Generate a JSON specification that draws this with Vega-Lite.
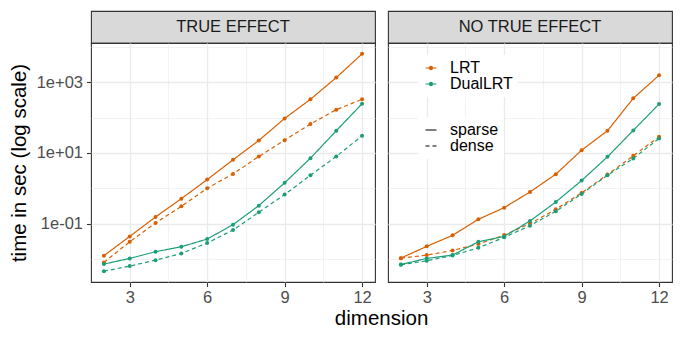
{
  "$schema": "https://vega.github.io/schema/vega-lite/v6.json",
  "padding": {"left": 8, "top": 10, "right": 8, "bottom": 8},
  "config": {"font": "Liberation Sans", "view": {"stroke": null}},
  "data": {"values": [
    {"effect":"TRUE EFFECT","method":"LRT","type":"sparse","dim":2,"time":0.0124},
    {"effect":"TRUE EFFECT","method":"LRT","type":"sparse","dim":3,"time":0.0437},
    {"effect":"TRUE EFFECT","method":"LRT","type":"sparse","dim":4,"time":0.155},
    {"effect":"TRUE EFFECT","method":"LRT","type":"sparse","dim":5,"time":0.51},
    {"effect":"TRUE EFFECT","method":"LRT","type":"sparse","dim":6,"time":1.77},
    {"effect":"TRUE EFFECT","method":"LRT","type":"sparse","dim":7,"time":6.4},
    {"effect":"TRUE EFFECT","method":"LRT","type":"sparse","dim":8,"time":22.6},
    {"effect":"TRUE EFFECT","method":"LRT","type":"sparse","dim":9,"time":95},
    {"effect":"TRUE EFFECT","method":"LRT","type":"sparse","dim":10,"time":330},
    {"effect":"TRUE EFFECT","method":"LRT","type":"sparse","dim":11,"time":1356},
    {"effect":"TRUE EFFECT","method":"LRT","type":"sparse","dim":12,"time":6370},
    {"effect":"TRUE EFFECT","method":"LRT","type":"dense","dim":2,"time":0.008},
    {"effect":"TRUE EFFECT","method":"LRT","type":"dense","dim":3,"time":0.0308},
    {"effect":"TRUE EFFECT","method":"LRT","type":"dense","dim":4,"time":0.1045},
    {"effect":"TRUE EFFECT","method":"LRT","type":"dense","dim":5,"time":0.31},
    {"effect":"TRUE EFFECT","method":"LRT","type":"dense","dim":6,"time":1.0},
    {"effect":"TRUE EFFECT","method":"LRT","type":"dense","dim":7,"time":2.56},
    {"effect":"TRUE EFFECT","method":"LRT","type":"dense","dim":8,"time":7.96},
    {"effect":"TRUE EFFECT","method":"LRT","type":"dense","dim":9,"time":23.1},
    {"effect":"TRUE EFFECT","method":"LRT","type":"dense","dim":10,"time":65.8},
    {"effect":"TRUE EFFECT","method":"LRT","type":"dense","dim":11,"time":168},
    {"effect":"TRUE EFFECT","method":"LRT","type":"dense","dim":12,"time":330},
    {"effect":"TRUE EFFECT","method":"DualLRT","type":"sparse","dim":2,"time":0.00718},
    {"effect":"TRUE EFFECT","method":"DualLRT","type":"sparse","dim":3,"time":0.0104},
    {"effect":"TRUE EFFECT","method":"DualLRT","type":"sparse","dim":4,"time":0.0161},
    {"effect":"TRUE EFFECT","method":"DualLRT","type":"sparse","dim":5,"time":0.0223},
    {"effect":"TRUE EFFECT","method":"DualLRT","type":"sparse","dim":6,"time":0.0367},
    {"effect":"TRUE EFFECT","method":"DualLRT","type":"sparse","dim":7,"time":0.0937},
    {"effect":"TRUE EFFECT","method":"DualLRT","type":"sparse","dim":8,"time":0.324},
    {"effect":"TRUE EFFECT","method":"DualLRT","type":"sparse","dim":9,"time":1.43},
    {"effect":"TRUE EFFECT","method":"DualLRT","type":"sparse","dim":10,"time":7.13},
    {"effect":"TRUE EFFECT","method":"DualLRT","type":"sparse","dim":11,"time":42.5},
    {"effect":"TRUE EFFECT","method":"DualLRT","type":"sparse","dim":12,"time":248},
    {"effect":"TRUE EFFECT","method":"DualLRT","type":"dense","dim":2,"time":0.00454},
    {"effect":"TRUE EFFECT","method":"DualLRT","type":"dense","dim":3,"time":0.0063},
    {"effect":"TRUE EFFECT","method":"DualLRT","type":"dense","dim":4,"time":0.0093},
    {"effect":"TRUE EFFECT","method":"DualLRT","type":"dense","dim":5,"time":0.0144},
    {"effect":"TRUE EFFECT","method":"DualLRT","type":"dense","dim":6,"time":0.0283},
    {"effect":"TRUE EFFECT","method":"DualLRT","type":"dense","dim":7,"time":0.066},
    {"effect":"TRUE EFFECT","method":"DualLRT","type":"dense","dim":8,"time":0.21},
    {"effect":"TRUE EFFECT","method":"DualLRT","type":"dense","dim":9,"time":0.665},
    {"effect":"TRUE EFFECT","method":"DualLRT","type":"dense","dim":10,"time":2.35},
    {"effect":"TRUE EFFECT","method":"DualLRT","type":"dense","dim":11,"time":7.96},
    {"effect":"TRUE EFFECT","method":"DualLRT","type":"dense","dim":12,"time":30.7},
    {"effect":"NO TRUE EFFECT","method":"LRT","type":"sparse","dim":2,"time":0.0106},
    {"effect":"NO TRUE EFFECT","method":"LRT","type":"sparse","dim":3,"time":0.0228},
    {"effect":"NO TRUE EFFECT","method":"LRT","type":"sparse","dim":4,"time":0.0467},
    {"effect":"NO TRUE EFFECT","method":"LRT","type":"sparse","dim":5,"time":0.133},
    {"effect":"NO TRUE EFFECT","method":"LRT","type":"sparse","dim":6,"time":0.284},
    {"effect":"NO TRUE EFFECT","method":"LRT","type":"sparse","dim":7,"time":0.79},
    {"effect":"NO TRUE EFFECT","method":"LRT","type":"sparse","dim":8,"time":2.51},
    {"effect":"NO TRUE EFFECT","method":"LRT","type":"sparse","dim":9,"time":12.0},
    {"effect":"NO TRUE EFFECT","method":"LRT","type":"sparse","dim":10,"time":42.5},
    {"effect":"NO TRUE EFFECT","method":"LRT","type":"sparse","dim":11,"time":352},
    {"effect":"NO TRUE EFFECT","method":"LRT","type":"sparse","dim":12,"time":1580},
    {"effect":"NO TRUE EFFECT","method":"LRT","type":"dense","dim":2,"time":0.0106},
    {"effect":"NO TRUE EFFECT","method":"LRT","type":"dense","dim":3,"time":0.0129},
    {"effect":"NO TRUE EFFECT","method":"LRT","type":"dense","dim":4,"time":0.0175},
    {"effect":"NO TRUE EFFECT","method":"LRT","type":"dense","dim":5,"time":0.0265},
    {"effect":"NO TRUE EFFECT","method":"LRT","type":"dense","dim":6,"time":0.0476},
    {"effect":"NO TRUE EFFECT","method":"LRT","type":"dense","dim":7,"time":0.1},
    {"effect":"NO TRUE EFFECT","method":"LRT","type":"dense","dim":8,"time":0.255},
    {"effect":"NO TRUE EFFECT","method":"LRT","type":"dense","dim":9,"time":0.741},
    {"effect":"NO TRUE EFFECT","method":"LRT","type":"dense","dim":10,"time":2.45},
    {"effect":"NO TRUE EFFECT","method":"LRT","type":"dense","dim":11,"time":8.3},
    {"effect":"NO TRUE EFFECT","method":"LRT","type":"dense","dim":12,"time":28.8},
    {"effect":"NO TRUE EFFECT","method":"DualLRT","type":"sparse","dim":2,"time":0.007},
    {"effect":"NO TRUE EFFECT","method":"DualLRT","type":"sparse","dim":3,"time":0.0104},
    {"effect":"NO TRUE EFFECT","method":"DualLRT","type":"sparse","dim":4,"time":0.0129},
    {"effect":"NO TRUE EFFECT","method":"DualLRT","type":"sparse","dim":5,"time":0.0308},
    {"effect":"NO TRUE EFFECT","method":"DualLRT","type":"sparse","dim":6,"time":0.0437},
    {"effect":"NO TRUE EFFECT","method":"DualLRT","type":"sparse","dim":7,"time":0.119},
    {"effect":"NO TRUE EFFECT","method":"DualLRT","type":"sparse","dim":8,"time":0.412},
    {"effect":"NO TRUE EFFECT","method":"DualLRT","type":"sparse","dim":9,"time":1.66},
    {"effect":"NO TRUE EFFECT","method":"DualLRT","type":"sparse","dim":10,"time":7.78},
    {"effect":"NO TRUE EFFECT","method":"DualLRT","type":"sparse","dim":11,"time":43.5},
    {"effect":"NO TRUE EFFECT","method":"DualLRT","type":"sparse","dim":12,"time":243},
    {"effect":"NO TRUE EFFECT","method":"DualLRT","type":"dense","dim":2,"time":0.0069},
    {"effect":"NO TRUE EFFECT","method":"DualLRT","type":"dense","dim":3,"time":0.0089},
    {"effect":"NO TRUE EFFECT","method":"DualLRT","type":"dense","dim":4,"time":0.0126},
    {"effect":"NO TRUE EFFECT","method":"DualLRT","type":"dense","dim":5,"time":0.0208},
    {"effect":"NO TRUE EFFECT","method":"DualLRT","type":"dense","dim":6,"time":0.041},
    {"effect":"NO TRUE EFFECT","method":"DualLRT","type":"dense","dim":7,"time":0.0877},
    {"effect":"NO TRUE EFFECT","method":"DualLRT","type":"dense","dim":8,"time":0.224},
    {"effect":"NO TRUE EFFECT","method":"DualLRT","type":"dense","dim":9,"time":0.695},
    {"effect":"NO TRUE EFFECT","method":"DualLRT","type":"dense","dim":10,"time":2.35},
    {"effect":"NO TRUE EFFECT","method":"DualLRT","type":"dense","dim":11,"time":6.98},
    {"effect":"NO TRUE EFFECT","method":"DualLRT","type":"dense","dim":12,"time":25.8}
  ]},
  "title": {"text": "dimension", "orient": "bottom", "anchor": "middle", "fontSize": 20.5, "fontWeight": "normal", "color": "black", "offset": 2, "dx": 41},
  "spacing": 11,
  "resolve": {"scale": {"color": "shared", "strokeDash": "shared"}, "legend": {"color": "shared", "strokeDash": "shared"}},
  "hconcat": [
    {
      "bounds": "flush",
      "spacing": 0,
      "vconcat": [
        {
          "width": 284, "height": 32,
          "view": {"fill": "#D9D9D9", "stroke": "#333333", "strokeWidth": 1.1},
          "data": {"values": [{"label": "TRUE EFFECT"}]},
          "mark": {"type": "text", "fontSize": 16.5, "color": "#1A1A1A"},
          "encoding": {"text": {"field": "label"}}
        },
        {
          "width": 284, "height": 239,
          "view": {"stroke": "#333333", "strokeWidth": 1.1},
          "transform": [{"filter": "datum.effect == 'TRUE EFFECT'"}],
          "encoding": {
            "x": {"field": "dim", "type": "quantitative", "scale": {"domain": [1.5, 12.5], "nice": false, "zero": false},
              "axis": {"title": null, "values": [3, 4.5, 6, 7.5, 9, 10.5, 12], "labelExpr": "datum.value % 3 == 0 ? datum.label : ''",
                "domain": false, "labelFlush": false, "labelOverlap": false, "gridColor": "#EBEBEB",
                "gridWidth": {"condition": {"test": "datum.value % 3 == 0", "value": 1.3}, "value": 0.6},
                "tickColor": {"condition": {"test": "datum.value % 3 == 0", "value": "#333333"}, "value": "transparent"},
                "tickSize": 4.5, "tickWidth": 1.1, "labelFontSize": 16.5, "labelColor": "#4D4D4D", "labelPadding": 3}},
            "y": {"field": "time", "type": "quantitative", "scale": {"type": "log", "domain": [0.002239, 12920], "nice": false},
              "axis": {"title": "time in sec (log scale)", "titleFontSize": 20.5, "titleFontWeight": "normal", "titleColor": "black", "titlePadding": 7,
                "values": [0.01, 0.1, 1, 10, 100, 1000, 10000],
                "labelExpr": "datum.value == 1000 ? '1e+03' : datum.value == 10 ? '1e+01' : datum.value == 0.1 ? '1e-01' : ''",
                "domain": false, "labelOverlap": false, "labelFlush": false, "gridColor": "#EBEBEB",
                "gridWidth": {"condition": {"test": "datum.value == 1000 || datum.value == 10 || datum.value == 0.1", "value": 1.3}, "value": 0.6},
                "tickColor": {"condition": {"test": "datum.value == 1000 || datum.value == 10 || datum.value == 0.1", "value": "#333333"}, "value": "transparent"},
                "tickSize": 4.5, "tickWidth": 1.1, "labelFontSize": 16.5, "labelColor": "#4D4D4D", "labelPadding": 4}},
            "color": {"field": "method", "type": "nominal", "scale": {"domain": ["LRT", "DualLRT"], "range": ["#D95F02", "#1B9E77"]},
              "legend": {"title": null, "orient": "none", "legendX": 327, "legendY": 44, "symbolType": "M-1,-0.1L1,-0.1L1,0.1L-1,0.1Z M-0.4,0A0.4,0.4 0 1,1 0.4,0A0.4,0.4 0 1,1 -0.4,0Z", "symbolSize": 121, "symbolStrokeWidth": 0, "symbolOpacity": 1, "labelFontSize": 16, "labelColor": "black", "labelOffset": 11, "fillColor": "white", "padding": 5, "rowPadding": 0,
                "encode": {"symbols": {"update": {"fill": {"scale": "color", "field": "value"}, "stroke": {"value": "transparent"}, "strokeWidth": {"value": 0}, "opacity": {"value": 1}}}}}}
          },
          "layer": [
            {"mark": {"type": "line", "strokeWidth": 1.2},
             "encoding": {
               "strokeDash": {"field": "type", "type": "nominal", "scale": {"domain": ["sparse", "dense"], "range": [[1, 0], [4, 3]]},
                 "legend": {"title": null, "orient": "none", "legendX": 327, "legendY": 106, "symbolType": "stroke", "symbolSize": 121, "symbolStrokeColor": "black", "symbolStrokeWidth": 1.2, "labelFontSize": 16, "labelColor": "black", "labelOffset": 11, "fillColor": "white", "padding": 5, "rowPadding": 0}}
             }},
            {"mark": {"type": "point", "filled": true, "size": 16, "opacity": 1}}
          ]
        }
      ]
    },
    {
      "bounds": "flush",
      "spacing": 0,
      "vconcat": [
        {
          "width": 284, "height": 32,
          "view": {"fill": "#D9D9D9", "stroke": "#333333", "strokeWidth": 1.1},
          "data": {"values": [{"label": "NO TRUE EFFECT"}]},
          "mark": {"type": "text", "fontSize": 16.5, "color": "#1A1A1A"},
          "encoding": {"text": {"field": "label"}}
        },
        {
          "width": 284, "height": 239,
          "view": {"stroke": "#333333", "strokeWidth": 1.1},
          "transform": [{"filter": "datum.effect == 'NO TRUE EFFECT'"}],
          "encoding": {
            "x": {"field": "dim", "type": "quantitative", "scale": {"domain": [1.5, 12.5], "nice": false, "zero": false},
              "axis": {"title": null, "values": [3, 4.5, 6, 7.5, 9, 10.5, 12], "labelExpr": "datum.value % 3 == 0 ? datum.label : ''",
                "domain": false, "labelFlush": false, "labelOverlap": false, "gridColor": "#EBEBEB",
                "gridWidth": {"condition": {"test": "datum.value % 3 == 0", "value": 1.3}, "value": 0.6},
                "tickColor": {"condition": {"test": "datum.value % 3 == 0", "value": "#333333"}, "value": "transparent"},
                "tickSize": 4.5, "tickWidth": 1.1, "labelFontSize": 16.5, "labelColor": "#4D4D4D", "labelPadding": 3}},
            "y": {"field": "time", "type": "quantitative", "scale": {"type": "log", "domain": [0.002239, 12920], "nice": false},
              "axis": {"title": null, "labels": false, "ticks": false, "domain": false,
                "values": [0.01, 0.1, 1, 10, 100, 1000, 10000], "gridColor": "#EBEBEB",
                "gridWidth": {"condition": {"test": "datum.value == 1000 || datum.value == 10 || datum.value == 0.1", "value": 1.3}, "value": 0.6}}},
            "color": {"field": "method", "type": "nominal", "scale": {"domain": ["LRT", "DualLRT"], "range": ["#D95F02", "#1B9E77"]},
              "legend": {"title": null, "orient": "none", "legendX": 327, "legendY": 44, "symbolType": "M-1,-0.1L1,-0.1L1,0.1L-1,0.1Z M-0.4,0A0.4,0.4 0 1,1 0.4,0A0.4,0.4 0 1,1 -0.4,0Z", "symbolSize": 121, "symbolStrokeWidth": 0, "symbolOpacity": 1, "labelFontSize": 16, "labelColor": "black", "labelOffset": 11, "fillColor": "white", "padding": 5, "rowPadding": 0,
                "encode": {"symbols": {"update": {"fill": {"scale": "color", "field": "value"}, "stroke": {"value": "transparent"}, "strokeWidth": {"value": 0}, "opacity": {"value": 1}}}}}}
          },
          "layer": [
            {"mark": {"type": "line", "strokeWidth": 1.2},
             "encoding": {
               "strokeDash": {"field": "type", "type": "nominal", "scale": {"domain": ["sparse", "dense"], "range": [[1, 0], [4, 3]]},
                 "legend": {"title": null, "orient": "none", "legendX": 327, "legendY": 106, "symbolType": "stroke", "symbolSize": 121, "symbolStrokeColor": "black", "symbolStrokeWidth": 1.2, "labelFontSize": 16, "labelColor": "black", "labelOffset": 11, "fillColor": "white", "padding": 5, "rowPadding": 0}}
             }},
            {"mark": {"type": "point", "filled": true, "size": 16, "opacity": 1}}
          ]
        }
      ]
    }
  ]
}
